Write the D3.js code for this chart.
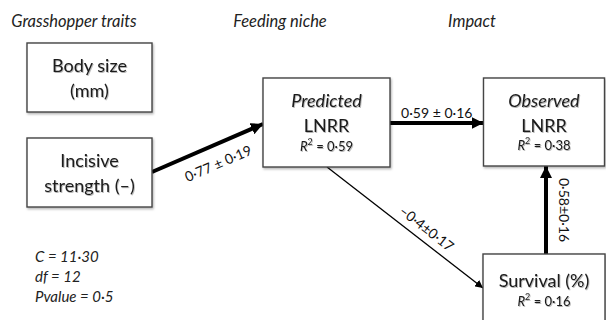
<!DOCTYPE html>
<html>
<head>
<meta charset="utf-8">
<script src="https://cdn.jsdelivr.net/npm/d3@7/dist/d3.min.js"></script>
<style>
  html, body { margin: 0; padding: 0; background: #fff; }
  svg { display: block; font-family: Lato, "Open Sans", "Noto Sans", sans-serif; }
</style>
</head>
<body>
<svg id="chart" width="606" height="320"></svg>
<script>
// Column headings of the path model
const headings = ["Grasshopper traits", "Feeding niche", "Impact"];

// Variables (nodes) of the model
const nodeIds    = ["body", "incisive", "predicted", "observed", "survival"];
const nodeTitles = [["Body size", "(mm)"], ["Incisive", "strength (–)"], ["Predicted", "LNRR"], ["Observed", "LNRR"], ["Survival (%)"]];
const nodeItalic = [false, false, true, true, false];
const nodeR2     = [null, null, 0.59, 0.38, 0.16];

// Path coefficients (estimate ± SE)
const edgeFrom = ["incisive", "predicted", "predicted", "survival"];
const edgeTo   = ["predicted", "observed", "survival", "observed"];
const edgeEst  = [0.77, 0.59, -0.4, 0.58];
const edgeSE   = [0.19, 0.16, 0.17, 0.16];
const edgeLabelText = ["0·77 ± 0·19", "0·59 ± 0·16", "–0·4±0·17", "0·58±0·16"];

// Goodness-of-fit statistics
const statLabels = ["C = 11·30", "df = 12", "Pvalue = 0·5"];

// ---- layout (pixel geometry kept apart from the data) ----
const svg = d3.select("#chart");
const col = d3.scaleOrdinal().domain([0, 1, 2]).range([89.5, 326.5, 544]);
const boxes = {
  body:      { c: 0, y: 43,  w: 125, h: 69 },
  incisive:  { c: 0, y: 138, w: 125, h: 69 },
  predicted: { c: 1, y: 78,  w: 127, h: 89 },
  observed:  { c: 2, y: 78,  w: 121, h: 88 },
  survival:  { c: 2, y: 254, w: 122, h: 90 }
};
const fmt = d => d3.format(".2f")(d).replace(".", "·");

const defs = svg.append("defs");
const shadow = defs.append("filter").attr("id", "shadow")
  .attr("x", "-10%").attr("y", "-10%").attr("width", "130%").attr("height", "140%");
shadow.append("feDropShadow").attr("dx", 1).attr("dy", 1.5).attr("stdDeviation", 1)
  .attr("flood-color", "#000").attr("flood-opacity", 0.3);
const tshadow = defs.append("filter").attr("id", "tshadow")
  .attr("x", "-10%").attr("y", "-20%").attr("width", "130%").attr("height", "160%");
tshadow.append("feDropShadow").attr("dx", 0.8).attr("dy", 1).attr("stdDeviation", 0.7)
  .attr("flood-color", "#000").attr("flood-opacity", 0.3);

function marker(id, w, l) {
  defs.append("marker").attr("id", id)
    .attr("viewBox", `0 ${-w} ${l} ${2 * w}`)
    .attr("refX", l).attr("refY", 0)
    .attr("markerUnits", "userSpaceOnUse")
    .attr("markerWidth", l).attr("markerHeight", 2 * w)
    .attr("orient", "auto")
    .append("path").attr("d", `M0,${-w}L${l},0L0,${w}Z`).attr("fill", "#000");
}
marker("headThick", 6, 12);
marker("headThin", 4, 8);

// headings
const headX = [74, 280, 472];
svg.append("g").selectAll("text").data(headings).join("text")
  .attr("x", (d, i) => headX[i]).attr("y", 27)
  .attr("text-anchor", "middle")
  .attr("font-size", 16.5).attr("font-style", "italic").attr("fill", "#222")
  .text(d => d);

// node geometry
const nodes = nodeIds.map((id, i) => {
  const b = boxes[id];
  const cx = col(b.c);
  return { id, x0: cx - b.w / 2, x1: cx + b.w / 2, y0: b.y, y1: b.y + b.h, cx,
           title: nodeTitles[i], italic: nodeItalic[i], r2: nodeR2[i] };
});
const byId = Object.fromEntries(nodes.map(n => [n.id, n]));

// edges: anchor points on box borders
const anchors = {
  "incisive>predicted": () => [[byId.incisive.x1, 172], [byId.predicted.x0, 124]],
  "predicted>observed": () => [[byId.predicted.x1, 123], [byId.observed.x0, 123]],
  "predicted>survival": () => [[327, byId.predicted.y1], [byId.survival.x0, 288]],
  "survival>observed":  () => [[546, byId.survival.y0], [546, byId.observed.y1]]
};
const edges = edgeFrom.map((f, i) => {
  const pts = anchors[f + ">" + edgeTo[i]]();
  return { from: f, to: edgeTo[i], est: edgeEst[i], se: edgeSE[i], label: edgeLabelText[i], pts,
           thick: Math.abs(edgeEst[i]) >= 0.5 };
});

const gEdges = svg.append("g");
gEdges.selectAll("line").data(edges).join("line")
  .attr("x1", d => d.pts[0][0]).attr("y1", d => d.pts[0][1])
  .attr("x2", d => d.pts[1][0]).attr("y2", d => d.pts[1][1])
  .attr("stroke", "#000")
  .attr("stroke-width", d => d.thick ? 4 : 1.3)
  .attr("marker-end", d => d.thick ? "url(#headThick)" : "url(#headThin)");

// edge labels, placed alongside each path (t: position along, off: perpendicular shift)
const labelOffset = [
  { t: 0.53, off: 18 },
  { t: 0.5,  off: -11 },
  { t: 0.59, off: -13 },
  { t: 0.5,  off: -18 }
];
gEdges.selectAll("text").data(edges).join("text")
  .attr("transform", (d, i) => {
    const [[x1, y1], [x2, y2]] = d.pts;
    let ang = Math.atan2(y2 - y1, x2 - x1) * 180 / Math.PI;
    if (ang < -90) ang += 180;
    if (ang === -90) ang = 90;
    const o = labelOffset[i];
    const mx = x1 + (x2 - x1) * o.t, my = y1 + (y2 - y1) * o.t;
    const r = ang * Math.PI / 180;
    const nx = -Math.sin(r), ny = Math.cos(r);
    return `translate(${mx + nx * o.off},${my + ny * o.off}) rotate(${ang})`;
  })
  .attr("text-anchor", "middle")
  .attr("dominant-baseline", "central")
  .attr("font-size", 14).attr("fill", "#111")
  .text(d => d.label);

// boxes
const gNodes = svg.append("g").selectAll("g").data(nodes).join("g");
gNodes.append("rect")
  .attr("x", d => d.x0).attr("y", d => d.y0)
  .attr("width", d => d.x1 - d.x0).attr("height", d => d.y1 - d.y0)
  .attr("fill", "#fff").attr("stroke", "#444").attr("stroke-width", 1.4)
  .attr("filter", "url(#shadow)");

const lineY = {
  body: [67, 92], incisive: [162, 187],
  predicted: [102, 127], observed: [102, 127], survival: [282]
};
const r2Y = { predicted: 148, observed: 147, survival: 303 };

gNodes.each(function (d) {
  const g = d3.select(this);
  d.title.forEach((t, k) => {
    g.append("text")
      .attr("x", d.cx).attr("y", lineY[d.id][k])
      .attr("text-anchor", "middle").attr("dominant-baseline", "middle")
      .attr("font-size", 18)
      .attr("font-style", d.italic && k === 0 ? "italic" : "normal")
      .attr("fill", "#1a1a1a").attr("filter", "url(#tshadow)")
      .text(t);
  });
  if (d.r2 != null) {
    const t = g.append("text")
      .attr("x", d.cx).attr("y", r2Y[d.id])
      .attr("text-anchor", "middle").attr("dominant-baseline", "middle")
      .attr("font-size", 13).attr("fill", "#1a1a1a").attr("filter", "url(#tshadow)");
    t.append("tspan").attr("font-style", "italic").text("R");
    t.append("tspan").attr("font-size", 9).attr("dy", -5).text("2");
    t.append("tspan").attr("dy", 5).text(" = " + fmt(d.r2));
  }
});

// fit statistics
svg.append("g").selectAll("text").data(statLabels).join("text")
  .attr("x", 35).attr("y", (d, i) => 262 + i * 20)
  .attr("font-size", 15).attr("font-style", "italic").attr("fill", "#222")
  .text(d => d);
</script>
</body>
</html>
